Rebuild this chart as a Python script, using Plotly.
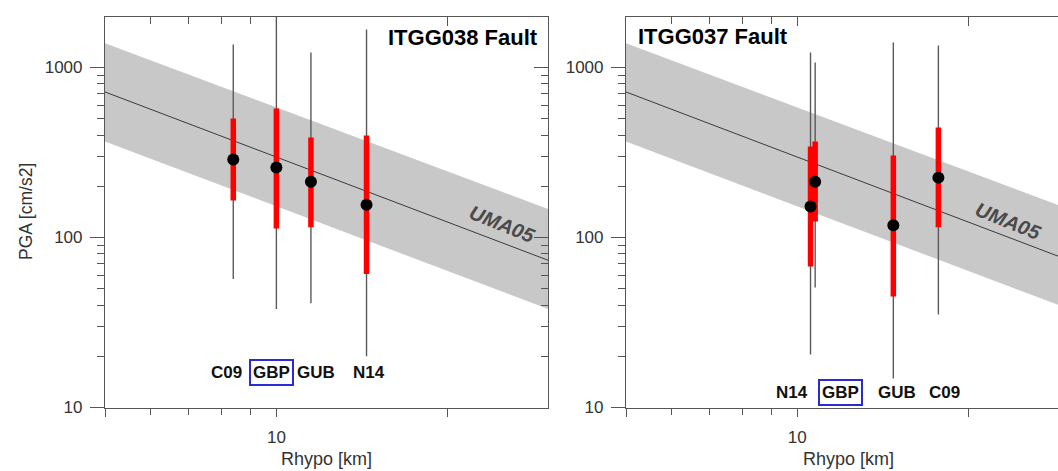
import numpy as np
import plotly.graph_objects as go

# ---------------- data ----------------
# UMA05 prediction (straight line in log-log), median and +/- 1 sigma band
model_r = [5, 30]
model_median = [718, 73.5]
model_upper = [1390, 147]
model_lower = [367, 38]

# ITGG038 Fault (left panel)
a_title = "ITGG038 Fault"
a_stations = ["C09", "GBP", "GUB", "N14"]
a_r = [8.4, 10.0, 11.5, 14.4]
a_pga = [288, 258, 213, 156]
a_p16 = [165, 113, 115, 61]
a_p84 = [501, 574, 387, 398]
a_min = [57, 38, 41, 20]
a_max = [1365, 1990, 1225, 1675]

# ITGG037 Fault (right panel)
b_title = "ITGG037 Fault"
b_stations = ["N14", "GBP", "GUB", "C09"]
b_r = [10.55, 10.75, 14.75, 17.7]
b_pga = [152, 213, 118, 225]
b_p16 = [67.5, 124, 45, 115]
b_p84 = [343, 367, 304, 444]
b_min = [20.5, 50.8, 14.8, 35.2]
b_max = [1225, 1070, 1403, 1346]

x_tickvals = [5, 10, 20]
x_ticktext = ["", "10", ""]
x_minor = [6, 7, 8, 9]
y_tickvals = [10, 100, 1000]
y_ticktext = ["10", "100", "1000"]
y_minor = [20, 30, 40, 50, 60, 70, 80, 90, 200, 300, 400, 500, 600, 700, 800, 900]

# ---------------- layout helpers ----------------
W, H = 1058, 471
FONT = "Liberation Sans, Arial, sans-serif"
AX = "#555555"
TXT = "#333333"

def px_x(p):
    return p / W

def px_y(p):
    return 1 - p / H

fig = go.Figure()


def add_panel(xa, ya, r, pga, p16, p84, vmin, vmax):
    fig.add_trace(go.Scatter(x=model_r, y=model_upper, mode="lines",
                             line=dict(width=0, color="#c8c8c8"),
                             xaxis=xa, yaxis=ya, showlegend=False, hoverinfo="skip"))
    fig.add_trace(go.Scatter(x=model_r, y=model_lower, mode="lines", fill="tonexty",
                             fillcolor="#c8c8c8", line=dict(width=0, color="#c8c8c8"),
                             xaxis=xa, yaxis=ya, showlegend=False, hoverinfo="skip"))
    fig.add_trace(go.Scatter(x=model_r, y=model_median, mode="lines",
                             line=dict(width=1, color="#3a3a3a"),
                             xaxis=xa, yaxis=ya, showlegend=False, hoverinfo="skip"))
    pga = np.array(pga, float)
    # thin min-max whiskers
    fig.add_trace(go.Scatter(
        x=r, y=pga, mode="markers", marker=dict(size=1, color="rgba(0,0,0,0)"),
        error_y=dict(type="data", symmetric=False,
                     array=np.array(vmax) - pga, arrayminus=pga - np.array(vmin),
                     thickness=1.4, width=0, color="#5a5a5a"),
        xaxis=xa, yaxis=ya, showlegend=False, hoverinfo="skip"))
    # red 16-84 bars with black dots
    fig.add_trace(go.Scatter(
        x=r, y=pga, mode="markers", marker=dict(size=12, color="black"),
        error_y=dict(type="data", symmetric=False,
                     array=np.array(p84) - pga, arrayminus=pga - np.array(p16),
                     thickness=5.5, width=0, color="#ff0000"),
        xaxis=xa, yaxis=ya, showlegend=False))


add_panel("x", "y", a_r, a_pga, a_p16, a_p84, a_min, a_max)
add_panel("x2", "y2", b_r, b_pga, b_p16, b_p84, b_min, b_max)

# empty traces so that the mirrored (top / right) axes get drawn
for xa, ya in [("x3", "y"), ("x", "y3"), ("x4", "y2")]:
    fig.add_trace(go.Scatter(x=[None], y=[None], mode="markers", xaxis=xa, yaxis=ya,
                             showlegend=False, hoverinfo="skip"))

ydom = [px_y(407.5), px_y(16.5)]
yrange = [1, 3.3]
xrange_a = [np.log10(5), np.log10(30)]
xdom_a = [px_x(105), px_x(548)]
xdom_b = [px_x(626), 1.0]
xrange_b = [np.log10(5), np.log10(5) + (1058 - 626) / 569.0]

tickfont = dict(family=FONT, size=17, color=TXT)


def xaxis_main(dom, rng, anchor):
    return dict(type="log", domain=dom, range=rng, anchor=anchor,
                showline=True, linecolor=AX, linewidth=1.2, mirror=False,
                ticks="outside", ticklen=8, tickwidth=1, tickcolor=AX,
                tickvals=x_tickvals, ticktext=x_ticktext, tickfont=tickfont,
                ticklabelstandoff=6,
                minor=dict(tickvals=x_minor, ticks="outside", ticklen=6, tickcolor=AX, tickwidth=1),
                showgrid=False, zeroline=False, automargin=False)


def xaxis_top(dom, rng, anchor, over):
    return dict(type="log", domain=dom, range=rng, anchor=anchor, overlaying=over, side="top",
                showline=True, linecolor=AX, linewidth=1.2,
                ticks="inside", ticklen=9, tickwidth=1, tickcolor=AX,
                tickvals=x_tickvals, showticklabels=False,
                minor=dict(tickvals=x_minor, ticks="inside", ticklen=7, tickcolor=AX, tickwidth=1),
                showgrid=False, zeroline=False, automargin=False)


def yaxis_main(anchor):
    return dict(type="log", domain=ydom, range=yrange, anchor=anchor,
                showline=True, linecolor=AX, linewidth=1.2,
                ticks="outside", ticklen=14, tickwidth=1, tickcolor=AX,
                tickvals=y_tickvals, ticktext=y_ticktext, tickfont=tickfont,
                ticklabelstandoff=4,
                minor=dict(tickvals=y_minor, ticks="outside", ticklen=7, tickcolor=AX, tickwidth=1),
                showgrid=False, zeroline=False, automargin=False)


def yaxis_right(anchor, over):
    return dict(type="log", domain=ydom, range=yrange, anchor=anchor, overlaying=over, side="right",
                showline=True, linecolor=AX, linewidth=1.2,
                ticks="inside", ticklen=14, tickwidth=1, tickcolor=AX,
                tickvals=y_tickvals, showticklabels=False,
                minor=dict(tickvals=y_minor, ticks="inside", ticklen=7, tickcolor=AX, tickwidth=1),
                showgrid=False, zeroline=False, automargin=False)


fig.update_layout(
    width=W, height=H, margin=dict(l=0, r=0, t=0, b=0),
    template="none", paper_bgcolor="white", plot_bgcolor="white",
    showlegend=False,
    xaxis=xaxis_main(xdom_a, xrange_a, "y"),
    yaxis=yaxis_main("x"),
    xaxis2=xaxis_main(xdom_b, xrange_b, "y2"),
    yaxis2=yaxis_main("x2"),
    xaxis3=xaxis_top(xdom_a, xrange_a, "y", "x"),
    yaxis3=yaxis_right("x", "y"),
    xaxis4=xaxis_top(xdom_b, xrange_b, "y2", "x2"),
)

ann = []
# axis titles
for cx in [(105 + 548) / 2, (626 + 1070) / 2]:
    ann.append(dict(text="Rhypo [km]", x=px_x(cx), y=px_y(459), xref="paper", yref="paper",
                    xanchor="center", yanchor="middle", showarrow=False,
                    font=dict(family=FONT, size=18, color=TXT)))
ann.append(dict(text="PGA [cm/s2]", x=px_x(26), y=px_y(212), xref="paper", yref="paper",
                xanchor="center", yanchor="middle", showarrow=False, textangle=-90,
                font=dict(family=FONT, size=17.5, color=TXT)))
# panel titles
ann.append(dict(text="<b>" + a_title + "</b>", x=px_x(540), y=px_y(38), xref="paper", yref="paper",
                xanchor="right", yanchor="middle", showarrow=False,
                font=dict(family=FONT, size=22, color="black")))
ann.append(dict(text="<b>" + b_title + "</b>", x=px_x(636), y=px_y(37), xref="paper", yref="paper",
                xanchor="left", yanchor="middle", showarrow=False,
                font=dict(family=FONT, size=22, color="black")))
# model labels
for cx, cy in [(502, 224), (1008, 221)]:
    ann.append(dict(text="<b><i>UMA05</i></b>", x=px_x(cx), y=px_y(cy), xref="paper", yref="paper",
                    xanchor="center", yanchor="middle", showarrow=False, textangle=22,
                    font=dict(family=FONT, size=20, color="#4a4a4a")))

# station labels
a_shift = [-7, -5, 5, 2]
b_shift = [-19, 25, 4, 6]
for stations, rs, shifts, xref, ly in [(a_stations, a_r, a_shift, "x", 372),
                                       (b_stations, b_r, b_shift, "x2", 392)]:
    for s, rr, sh in zip(stations, rs, shifts):
        d = dict(text="<b>" + s + "</b>", x=np.log10(rr), y=px_y(ly), xref=xref, yref="paper",
                 xanchor="center", yanchor="middle", showarrow=False, xshift=sh,
                 font=dict(family=FONT, size=17, color="#111111"))
        if s == "GBP":
            d.update(bordercolor="#2b2bd6", borderwidth=2, borderpad=2)
        ann.append(d)

fig.update_layout(annotations=ann)

fig.write_html("out.html")
